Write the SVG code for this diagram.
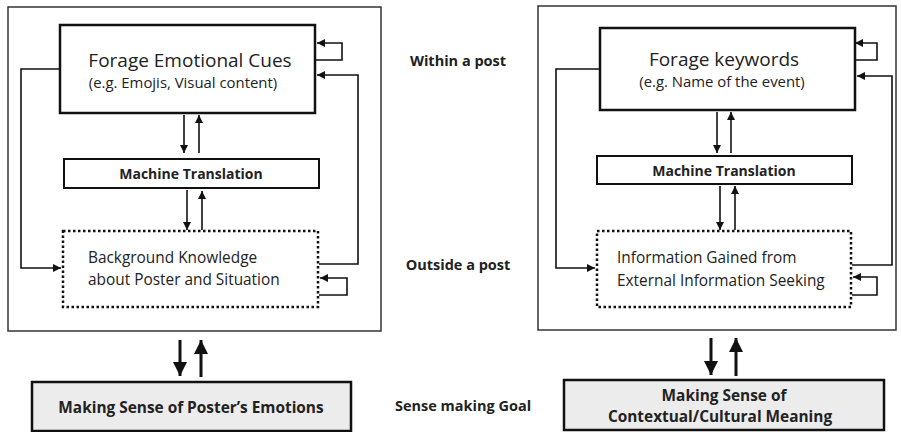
<svg xmlns="http://www.w3.org/2000/svg" width="901" height="432" viewBox="0 0 901 432">
<style>
text{font-family:"Open Sans","Noto Sans","Liberation Sans",sans-serif;fill:#222;}
.title{font-size:19px;font-weight:500;text-anchor:middle;}
.sub{font-size:14.9px;font-weight:500;text-anchor:middle;}
.mt{font-size:14px;font-weight:bold;text-anchor:middle;}
.bg{font-size:15.4px;font-weight:500;}
.lbl{font-size:14.5px;font-weight:bold;text-anchor:middle;}
.goal{font-size:15.4px;font-weight:bold;text-anchor:middle;}
.outer{fill:#fff;stroke:#333;stroke-width:1.5;}
.solid{fill:#fff;stroke:#111;stroke-width:2.5;}
.mtbox{fill:#fff;stroke:#111;stroke-width:2;}
.dot{fill:#fff;stroke:#111;stroke-width:2.5;stroke-dasharray:2.5 2.5;}
.goalbox{fill:#ececec;stroke:#111;stroke-width:2.5;}
.c{fill:none;stroke:#111;stroke-width:1.6;}
.cb{fill:none;stroke:#111;stroke-width:3;}
</style>
<defs>
<marker id="ah" markerUnits="userSpaceOnUse" markerWidth="9" markerHeight="9" refX="8" refY="4" orient="auto"><path d="M0,0 L8,4 L0,8 z" fill="#111"/></marker>
<marker id="big" markerUnits="userSpaceOnUse" markerWidth="16" markerHeight="16" refX="14" refY="7" orient="auto"><path d="M0,0 L14,7 L0,14 z" fill="#111"/></marker>
</defs>
<rect width="901" height="432" fill="#fff"/>
<g id="left-panel"><rect class="outer" x="8" y="7" width="373" height="324"/></g>
<g id="right-panel"><rect class="outer" x="538" y="6" width="358" height="324"/></g>
<g id="forage-emotional">
<rect class="solid" x="60" y="25" width="255" height="88"/>
<text class="title" x="190" y="67">Forage Emotional Cues</text>
<text class="sub" x="183" y="88">(e.g. Emojis, Visual content)</text>
</g>
<g id="mt-left">
<rect class="mtbox" x="64" y="159" width="255" height="29"/>
<text class="mt" x="191" y="179">Machine Translation</text>
</g>
<g id="background-knowledge">
<rect class="dot" x="63" y="231" width="255" height="76"/>
<text class="bg" x="88" y="263">Background Knowledge</text>
<text class="bg" x="88" y="285">about Poster and Situation</text>
</g>
<g id="goal-left">
<rect class="goalbox" x="32" y="382" width="319" height="49"/>
<text class="goal" x="191" y="413">Making Sense of Poster’s Emotions</text>
</g>
<g id="forage-keywords">
<rect class="solid" x="600" y="28" width="255" height="82"/>
<text class="title" x="724" y="66">Forage keywords</text>
<text class="sub" x="722" y="87">(e.g. Name of the event)</text>
</g>
<g id="mt-right">
<rect class="mtbox" x="597" y="156" width="255" height="28"/>
<text class="mt" x="724" y="176">Machine Translation</text>
</g>
<g id="info-gained">
<rect class="dot" x="597" y="231" width="254" height="76"/>
<text class="bg" x="617" y="263">Information Gained from</text>
<text class="bg" x="617" y="286">External Information Seeking</text>
</g>
<g id="goal-right">
<rect class="goalbox" x="564" y="380" width="320" height="50"/>
<text class="goal" x="724" y="401">Making Sense of</text>
<text class="goal" x="720" y="422">Contextual/Cultural Meaning</text>
</g>
<g id="labels">
<text class="lbl" x="458" y="66">Within a post</text>
<text class="lbl" x="458" y="270">Outside a post</text>
<text class="lbl" x="463" y="411">Sense making Goal</text>
</g>
<g id="connectors">
<path class="c" d="M316,60 H342 V43 H317" marker-end="url(#ah)"/>
<path class="c" d="M319,264 H358 V75 H317" marker-end="url(#ah)"/>
<path class="c" d="M59,69 H21 V268 H61" marker-end="url(#ah)"/>
<path class="c" d="M319,295 H347 V278 H320" marker-end="url(#ah)"/>
<path class="c" d="M184,115 V153" marker-end="url(#ah)"/>
<path class="c" d="M199,153 V115" marker-end="url(#ah)"/>
<path class="c" d="M187,190 V230" marker-end="url(#ah)"/>
<path class="c" d="M202,230 V191" marker-end="url(#ah)"/>
<path class="cb" d="M180,340 V376" marker-end="url(#big)"/>
<path class="cb" d="M201,377 V340" marker-end="url(#big)"/>
<path class="c" d="M856,60 H877 V43 H855" marker-end="url(#ah)"/>
<path class="c" d="M852,265 H892 V76 H857" marker-end="url(#ah)"/>
<path class="c" d="M599,69 H556 V268 H595" marker-end="url(#ah)"/>
<path class="c" d="M852,295 H877 V277 H853" marker-end="url(#ah)"/>
<path class="c" d="M717,112 V153" marker-end="url(#ah)"/>
<path class="c" d="M731,153 V112" marker-end="url(#ah)"/>
<path class="c" d="M720,186 V230" marker-end="url(#ah)"/>
<path class="c" d="M735,230 V186" marker-end="url(#ah)"/>
<path class="cb" d="M711,338 V375" marker-end="url(#big)"/>
<path class="cb" d="M736,376 V338" marker-end="url(#big)"/>
</g>
</svg>
